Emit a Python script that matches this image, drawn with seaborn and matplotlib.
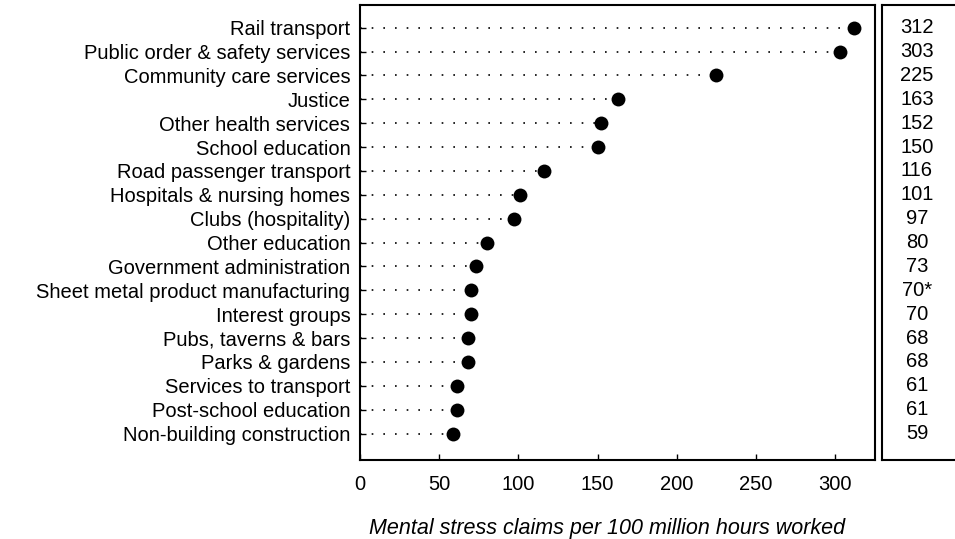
import matplotlib
matplotlib.use("Agg")
import matplotlib.pyplot as plt
import seaborn as sns
import pandas as pd

categories = ["Rail transport", "Public order & safety services", "Community care services",
              "Justice", "Other health services", "School education", "Road passenger transport",
              "Hospitals & nursing homes", "Clubs (hospitality)", "Other education",
              "Government administration", "Sheet metal product manufacturing", "Interest groups",
              "Pubs, taverns & bars", "Parks & gardens", "Services to transport",
              "Post-school education", "Non-building construction"]
values = [312, 303, 225, 163, 152, 150, 116, 101, 97, 80, 73, 70, 70, 68, 68, 61, 61, 59]
value_labels = ["312", "303", "225", "163", "152", "150", "116", "101", "97", "80", "73",
                "70*", "70", "68", "68", "61", "61", "59"]
xticks = [0, 50, 100, 150, 200, 250, 300]
xlabel = "Mental stress claims per 100 million hours worked"

sns.set_style("ticks")
plt.rcParams['font.family'] = ['Liberation Sans', 'DejaVu Sans']
plt.rcParams['text.color'] = 'black'
plt.rcParams['axes.labelcolor'] = 'black'
plt.rcParams['xtick.color'] = 'black'
plt.rcParams['ytick.color'] = 'black'

FS = 14.5

df = pd.DataFrame({"cat": categories, "val": values, "pos": range(len(categories))})

fig = plt.figure(figsize=(9.55, 5.39), dpi=100)
ax = fig.add_axes([0.377, 0.147, 0.5388, 0.8436])
ax2 = fig.add_axes([0.9232, 0.147, 0.2, 0.8436])

ax.hlines(df["pos"], 0, df["val"], colors="black", linestyles=(0, (1, 6)), linewidth=1.2, zorder=1)
sns.scatterplot(data=df, x="val", y="pos", ax=ax, color="black", s=100, edgecolor="black",
                linewidth=0, zorder=3, legend=False)

ax.set_xlim(0, 325)
ax.set_ylim(len(categories) - 1 + 1.1, -0.95)
ax.set_yticks(df["pos"])
ax.set_yticklabels(categories, fontsize=FS)
ax.set_xticks(xticks)
ax.set_xticklabels([str(t) for t in xticks], fontsize=FS)
ax.tick_params(axis="both", direction="in", length=4, width=1, color="black", labelcolor="black")
ax.tick_params(axis="x", pad=11)
ax.tick_params(axis="y", pad=7)
ax.set_xlabel(xlabel, fontsize=FS + 1, style="italic", color="black")
ax.xaxis.set_label_coords(0.48, -0.128)
ax.set_ylabel("")
for sp in ax.spines.values():
    sp.set_visible(True)
    sp.set_linewidth(1.5)
    sp.set_color("black")

ax2.set_xlim(0, 1)
ax2.set_ylim(ax.get_ylim())
for p, lab in zip(df["pos"], value_labels):
    ax2.text(0.185, p, lab, ha="center", va="center", fontsize=FS, color="black")
ax2.set_xticks([])
ax2.set_yticks([])
for sp in ax2.spines.values():
    sp.set_linewidth(1.5)
    sp.set_color("black")
ax2.spines["right"].set_visible(False)

fig.savefig("out.png", dpi=100)
